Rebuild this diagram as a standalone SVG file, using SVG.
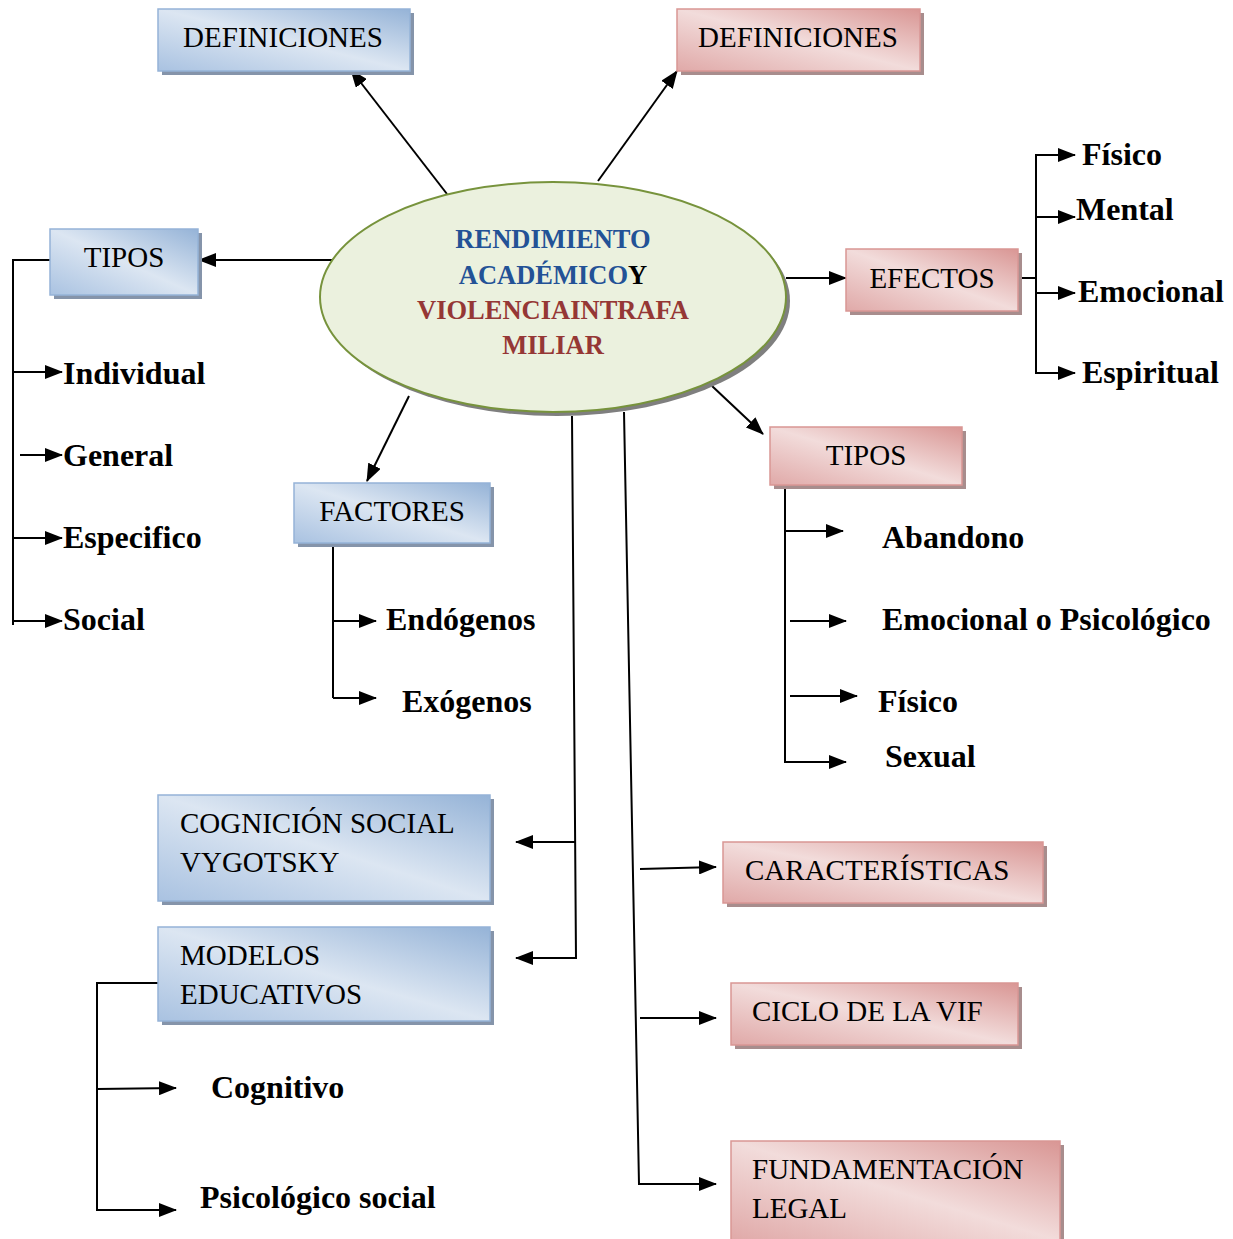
<svg xmlns="http://www.w3.org/2000/svg" width="1233" height="1239" viewBox="0 0 1233 1239">
<defs>
<linearGradient id="gb" x1="1" y1="0" x2="0" y2="1">
<stop offset="0" stop-color="#95b3d7"/>
<stop offset="0.5" stop-color="#dce6f2"/>
<stop offset="1" stop-color="#a9c2e1"/>
</linearGradient>
<linearGradient id="gr" x1="1" y1="0" x2="0" y2="1">
<stop offset="0" stop-color="#d99694"/>
<stop offset="0.5" stop-color="#f2dcdb"/>
<stop offset="1" stop-color="#e0a9a8"/>
</linearGradient>
<marker id="ah" viewBox="0 0 18 14" refX="17" refY="7" markerWidth="18" markerHeight="14" orient="auto" markerUnits="userSpaceOnUse">
<path d="M0,0 L18,7 L0,14 z" fill="#000"/>
</marker>
</defs>
<style>
.bb{fill:url(#gb);stroke:#95b3d7;stroke-width:1.5}
.bs{fill:#8594aa}
.rb{fill:url(#gr);stroke:#d99694;stroke-width:1.5}
.rs{fill:#a88d8d}
.bt{font-family:"Liberation Serif","Times New Roman",serif;font-size:29px;fill:#000}
.lb{font-family:"Liberation Serif","Times New Roman",serif;font-size:32px;font-weight:bold;fill:#000}
.et{font-family:"Liberation Serif","Times New Roman",serif;font-size:26.5px;font-weight:bold;text-anchor:middle}
.c{text-anchor:middle}
.ln{fill:none;stroke:#000;stroke-width:2}
.ar{fill:none;stroke:#000;stroke-width:2;marker-end:url(#ah)}
</style>
<rect width="1233" height="1239" fill="#fff"/>

<g id="connectors">
<line class="ar" x1="447" y1="194" x2="351" y2="70"/>
<line class="ar" x1="598" y1="181" x2="677" y2="71"/>
<line class="ar" x1="333" y1="260" x2="199" y2="260"/>
<polyline class="ln" points="50,260 13,260 13,625"/>
<line class="ar" x1="13" y1="372" x2="62" y2="372"/>
<line class="ar" x1="20" y1="455" x2="62" y2="455"/>
<line class="ar" x1="13" y1="538" x2="62" y2="538"/>
<line class="ar" x1="13" y1="621" x2="62" y2="621"/>
<line class="ar" x1="786" y1="278" x2="846" y2="278"/>
<line class="ln" x1="1018" y1="278" x2="1036" y2="278"/>
<line class="ln" x1="1036" y1="154" x2="1036" y2="374"/>
<line class="ar" x1="1036" y1="155" x2="1075" y2="155"/>
<line class="ar" x1="1036" y1="217" x2="1075" y2="217"/>
<line class="ar" x1="1036" y1="293" x2="1075" y2="293"/>
<line class="ar" x1="1036" y1="373" x2="1075" y2="373"/>
<line class="ar" x1="712" y1="386" x2="763" y2="434"/>
<line class="ln" x1="785" y1="486" x2="785" y2="763"/>
<line class="ar" x1="785" y1="531" x2="843" y2="531"/>
<line class="ar" x1="790" y1="621" x2="846" y2="621"/>
<line class="ar" x1="790" y1="696" x2="857" y2="696"/>
<line class="ar" x1="785" y1="762" x2="846" y2="762"/>
<line class="ar" x1="409" y1="396" x2="367" y2="481"/>
<polyline class="ln" points="333,543 333,698"/>
<line class="ar" x1="333" y1="621" x2="376" y2="621"/>
<line class="ar" x1="333" y1="698" x2="376" y2="698"/>
<polyline class="ar" points="572,416 576,958 516,958"/>
<line class="ar" x1="576" y1="842" x2="516" y2="842"/>
<polyline class="ar" points="624,412 639,1184 716,1184"/>
<line class="ar" x1="640" y1="869" x2="716" y2="867"/>
<line class="ar" x1="640" y1="1018" x2="716" y2="1018"/>
<polyline class="ar" points="158,983 97,983 97,1210 176,1210"/>
<line class="ar" x1="97" y1="1089" x2="176" y2="1088"/>
</g>

<g id="center">
<ellipse cx="557" cy="301" rx="233" ry="115" fill="#7f7f7f"/>
<ellipse cx="553" cy="297" rx="233" ry="115" fill="#ebf1de" stroke="#77933c" stroke-width="2"/>
<text class="et" x="553" y="248" fill="#235296">RENDIMIENTO</text>
<text class="et" x="553" y="284"><tspan fill="#235296">ACADÉMICO</tspan><tspan fill="#000">Y</tspan></text>
<text class="et" x="553" y="319" fill="#953735">VIOLENCIAINTRAFA</text>
<text class="et" x="553" y="354" fill="#953735">MILIAR</text>
</g>

<g id="def-blue">
<rect class="bs" x="162" y="13" width="252" height="62"/>
<rect class="bb" x="158" y="9" width="252" height="62"/>
<text class="bt c" x="283" y="47">DEFINICIONES</text>
</g>
<g id="def-red">
<rect class="rs" x="681" y="13" width="243" height="62"/>
<rect class="rb" x="677" y="9" width="243" height="62"/>
<text class="bt c" x="798" y="47">DEFINICIONES</text>
</g>
<g id="tipos-blue">
<rect class="bs" x="54" y="233" width="148" height="66"/>
<rect class="bb" x="50" y="229" width="148" height="66"/>
<text class="bt c" x="124" y="267">TIPOS</text>
</g>
<g id="tipos-blue-items">
<text class="lb" x="63" y="384">Individual</text>
<text class="lb" x="63" y="466">General</text>
<text class="lb" x="63" y="548">Especifico</text>
<text class="lb" x="63" y="630">Social</text>
</g>
<g id="factores">
<rect class="bs" x="298" y="487" width="196" height="60"/>
<rect class="bb" x="294" y="483" width="196" height="60"/>
<text class="bt c" x="392" y="521">FACTORES</text>
</g>
<g id="factores-items">
<text class="lb" x="386" y="630">Endógenos</text>
<text class="lb" x="402" y="712">Exógenos</text>
</g>
<g id="efectos">
<rect class="rs" x="850" y="253" width="172" height="62"/>
<rect class="rb" x="846" y="249" width="172" height="62"/>
<text class="bt c" x="932" y="288">EFECTOS</text>
</g>
<g id="efectos-items">
<text class="lb" x="1082" y="165">Físico</text>
<text class="lb" x="1076" y="220">Mental</text>
<text class="lb" x="1078" y="302">Emocional</text>
<text class="lb" x="1082" y="383">Espiritual</text>
</g>
<g id="tipos-red">
<rect class="rs" x="774" y="431" width="192" height="58"/>
<rect class="rb" x="770" y="427" width="192" height="58"/>
<text class="bt c" x="866" y="465">TIPOS</text>
</g>
<g id="tipos-red-items">
<text class="lb" x="882" y="548">Abandono</text>
<text class="lb" x="882" y="630">Emocional o Psicológico</text>
<text class="lb" x="878" y="712">Físico</text>
<text class="lb" x="885" y="767">Sexual</text>
</g>
<g id="cognicion">
<rect class="bs" x="162" y="799" width="332" height="106"/>
<rect class="bb" x="158" y="795" width="332" height="106"/>
<text class="bt" x="180" y="833">COGNICIÓN SOCIAL</text>
<text class="bt" x="180" y="872">VYGOTSKY</text>
</g>
<g id="modelos">
<rect class="bs" x="162" y="931" width="332" height="94"/>
<rect class="bb" x="158" y="927" width="332" height="94"/>
<text class="bt" x="180" y="965">MODELOS</text>
<text class="bt" x="180" y="1004">EDUCATIVOS</text>
</g>
<g id="modelos-items">
<text class="lb" x="211" y="1098">Cognitivo</text>
<text class="lb" x="200" y="1208">Psicológico social</text>
</g>
<g id="caracteristicas">
<rect class="rs" x="727" y="846" width="320" height="61"/>
<rect class="rb" x="723" y="842" width="320" height="61"/>
<text class="bt" x="745" y="880">CARACTERÍSTICAS</text>
</g>
<g id="ciclo">
<rect class="rs" x="735" y="987" width="287" height="62"/>
<rect class="rb" x="731" y="983" width="287" height="62"/>
<text class="bt" x="752" y="1021">CICLO DE LA VIF</text>
</g>
<g id="fundamentacion">
<rect class="rs" x="735" y="1145" width="329" height="100"/>
<rect class="rb" x="731" y="1141" width="329" height="100"/>
<text class="bt" x="752" y="1179">FUNDAMENTACIÓN</text>
<text class="bt" x="752" y="1218">LEGAL</text>
</g>
</svg>
